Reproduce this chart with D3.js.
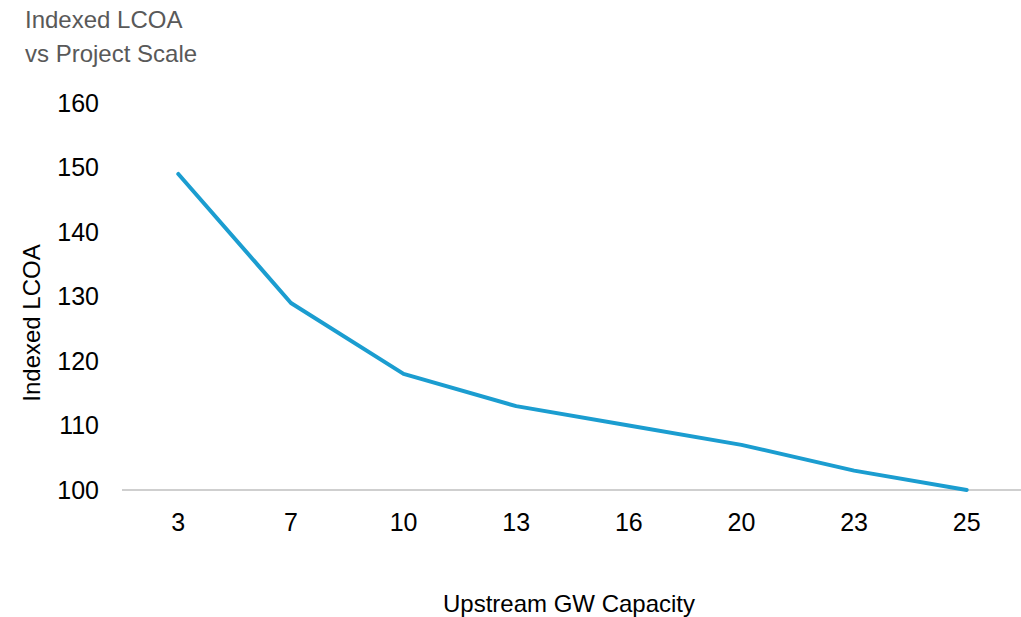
<!DOCTYPE html>
<html><head><meta charset="utf-8">
<script src="https://cdn.jsdelivr.net/npm/d3@7"></script>
<style>body{margin:0;background:#fff}svg{display:block;font-family:"Liberation Sans",Arial,sans-serif}</style>
</head><body>
<svg id="c" width="1021" height="617"></svg>
<script>
const categories = ["3","7","10","13","16","20","23","25"];
const values = [149,129,118,113,110,107,103,100];
const yTicks = [100,110,120,130,140,150,160];
const titleLines = ["Indexed LCOA","vs Project Scale"];
const xTitle = "Upstream GW Capacity";
const yTitle = "Indexed LCOA";

const svg = d3.select("#c");
const x = d3.scalePoint().domain(categories).range([122,1023]).padding(0.5);
const y = d3.scaleLinear().domain([100,160]).range([490,103]);

// title
svg.append("text").attr("fill","#595959").attr("font-size",24)
  .selectAll("tspan").data(titleLines).join("tspan")
  .attr("x",25).attr("y",(d,i)=>28+i*34).text(d=>d);

// y ticks
svg.append("g").selectAll("text").data(yTicks).join("text")
  .attr("x",99).attr("y",d=>y(d)).attr("dy","0.35em").attr("text-anchor","end")
  .attr("font-size",25).attr("fill","#000").text(d=>d);

// baseline
svg.append("line").attr("x1",122).attr("x2",1021).attr("y1",y(100)).attr("y2",y(100))
  .attr("stroke","#bfbfbf").attr("stroke-width",1.5);

// x ticks
svg.append("g").selectAll("text").data(categories).join("text")
  .attr("x",d=>x(d)).attr("y",522).attr("dy","0.35em").attr("text-anchor","middle")
  .attr("font-size",25).attr("fill","#000").text(d=>d);

// line
const line = d3.line().x((d,i)=>x(categories[i])).y(d=>y(d));
svg.append("path").datum(values).attr("d",line).attr("fill","none")
  .attr("stroke","#1b9dd0").attr("stroke-width",4).attr("stroke-linecap","round").attr("stroke-linejoin","round");

// axis titles
svg.append("text").attr("x",569).attr("y",612).attr("text-anchor","middle")
  .attr("font-size",24).attr("fill","#000").text(xTitle);
svg.append("text").attr("transform","translate(40,323) rotate(-90)").attr("text-anchor","middle")
  .attr("font-size",24).attr("fill","#000").text(yTitle);
</script>
</body></html>
